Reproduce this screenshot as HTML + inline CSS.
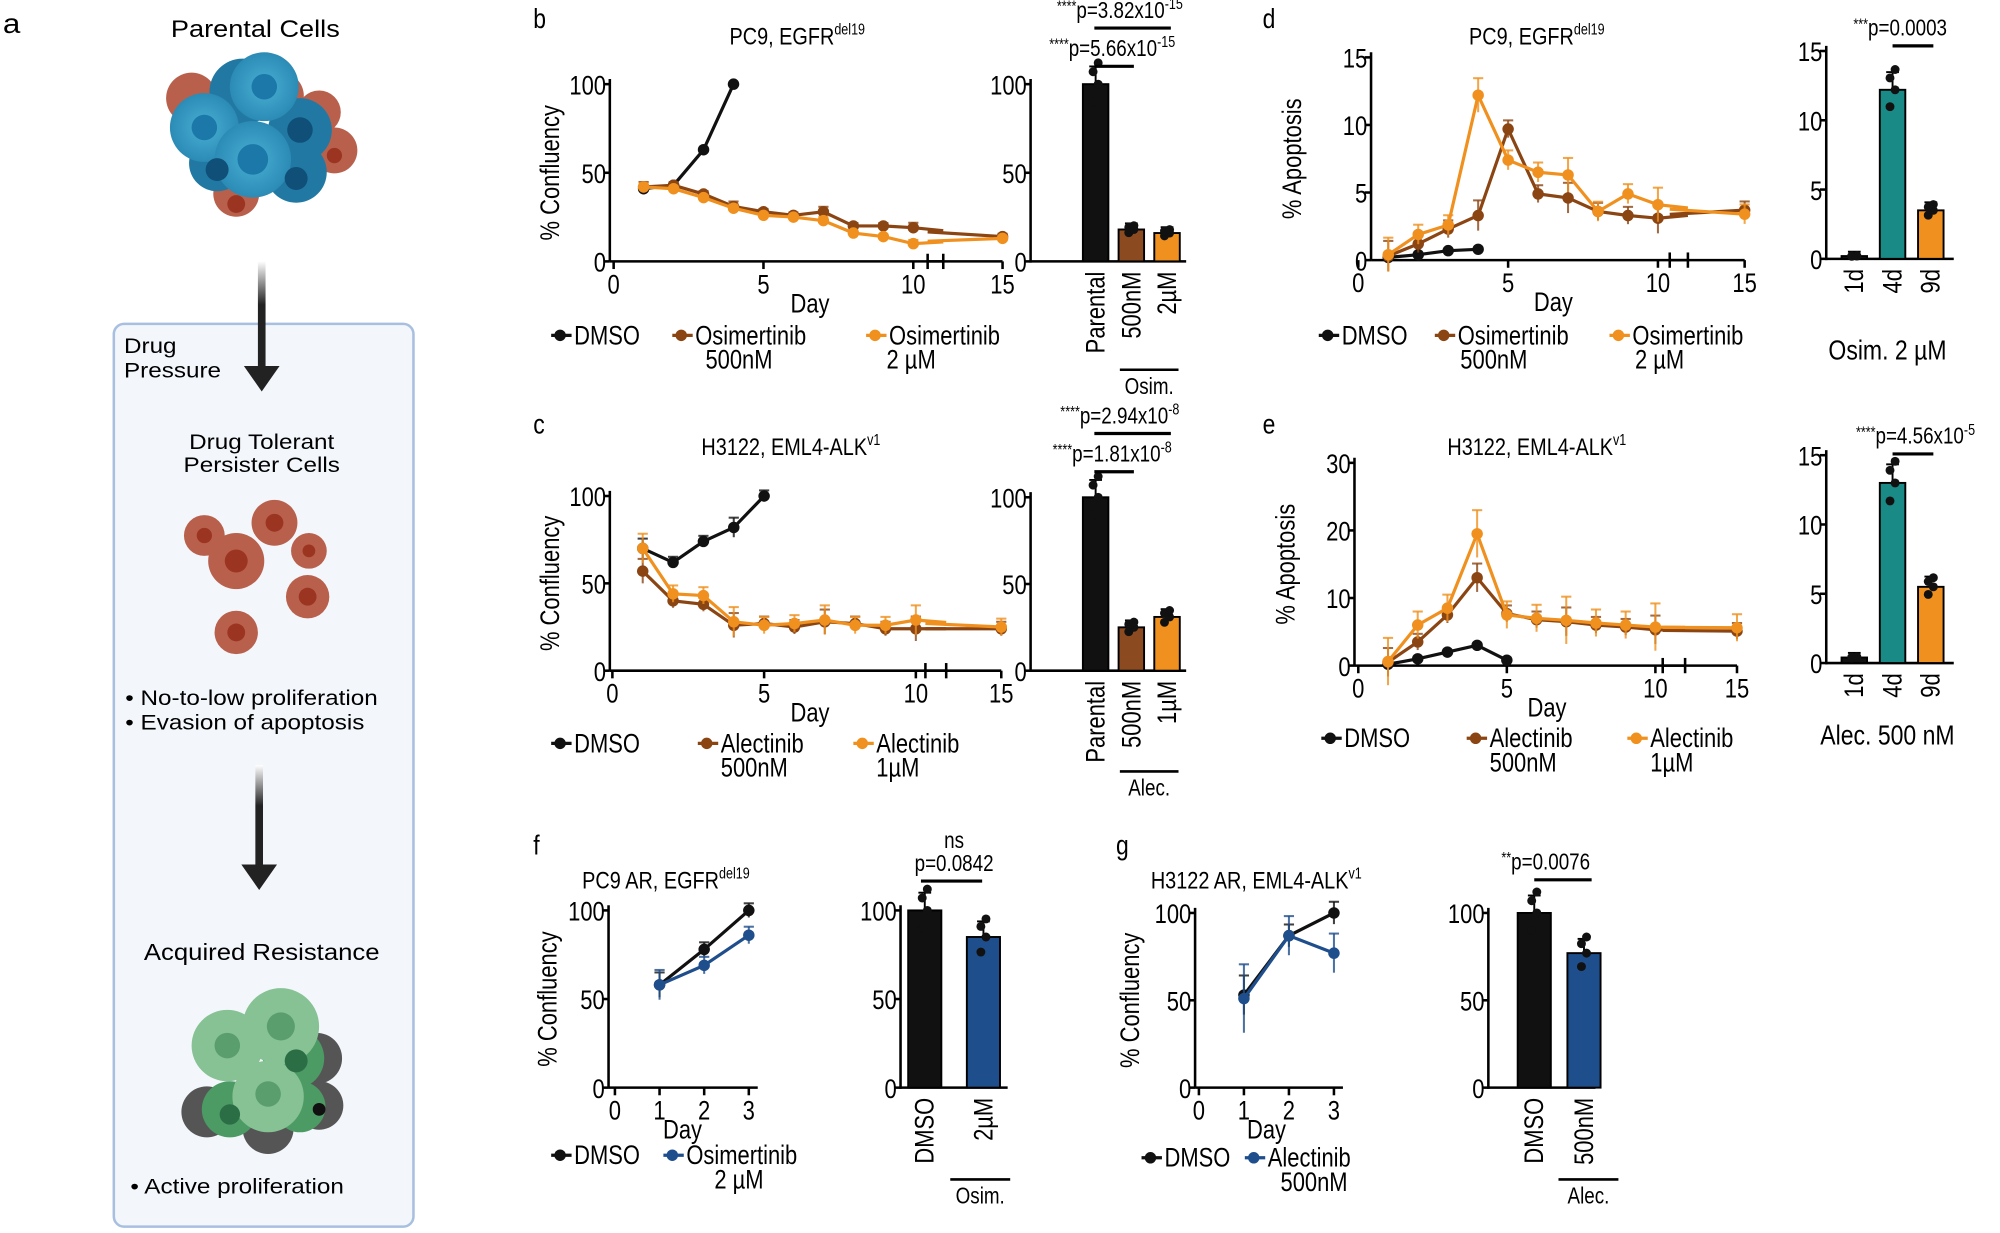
<!DOCTYPE html>
<html><head><meta charset="utf-8">
<style>
html,body{margin:0;padding:0;background:#fff;}
svg{display:block;font-family:"Liberation Sans Narrow","Liberation Sans",sans-serif;}
.t{font-family:"Liberation Sans",sans-serif;}
</style></head>
<body>
<svg id="fig" width="2000" height="1233" viewBox="0 0 1568 967" xmlns="http://www.w3.org/2000/svg">
<defs>
<radialGradient id="gb" cx="50%" cy="50%" r="50%"><stop offset="0" stop-color="#4ab0d4"/><stop offset="1" stop-color="#2b8bb5"/></radialGradient>
<linearGradient id="arr" x1="0" y1="0" x2="0" y2="1"><stop offset="0" stop-color="#fff"/><stop offset="0.4" stop-color="#222"/><stop offset="1" stop-color="#222"/></linearGradient>
</defs>
<g id="panelA" class="t">
<text x="2" y="26" font-size="22">a</text>
<text x="200" y="29" font-size="19" text-anchor="middle">Parental Cells</text>
<g>
<circle cx="150" cy="77" r="20" fill="#b8604c"/><circle cx="250" cy="88" r="17" fill="#b8604c"/><circle cx="262" cy="118" r="18" fill="#b8604c"/><circle cx="185" cy="152" r="18" fill="#b8604c"/><circle cx="220" cy="75" r="18" fill="#b8604c"/>
<circle cx="190" cy="72" r="26" fill="#2179a3"/><circle cx="235" cy="102" r="25" fill="#2179a3"/><circle cx="170" cy="128" r="22" fill="#2179a3"/><circle cx="232" cy="135" r="24" fill="#2179a3"/>
<circle cx="160" cy="100" r="27" fill="url(#gb)"/><circle cx="207" cy="68" r="27" fill="url(#gb)"/><circle cx="198" cy="125" r="30" fill="url(#gb)"/>
<circle cx="160" cy="100" r="10" fill="#1b78a8"/><circle cx="207" cy="68" r="10" fill="#1b78a8"/><circle cx="198" cy="125" r="12" fill="#1b78a8"/><circle cx="235" cy="102" r="10" fill="#0f4f78"/><circle cx="170" cy="133" r="9" fill="#0f4f78"/><circle cx="232" cy="140" r="9" fill="#0f4f78"/><circle cx="185" cy="160" r="7" fill="#9c3422"/><circle cx="262" cy="122" r="6" fill="#9c3422"/>
</g>
<rect x="89" y="254" width="235" height="708" rx="8" fill="#f3f7fc" stroke="#a9bfe0" stroke-width="2"/>
<rect x="202" y="205" width="6" height="85" fill="url(#arr)"/>
<polygon points="191,287 219,287 205,307" fill="#222"/>
<text x="97" y="277" font-size="17">Drug</text>
<text x="97" y="296" font-size="17">Pressure</text>
<text x="205" y="352" font-size="17" text-anchor="middle">Drug Tolerant</text>
<text x="205" y="370" font-size="17" text-anchor="middle">Persister Cells</text>
<g fill="#b8604c">
<circle cx="160" cy="420" r="16"/><circle cx="185" cy="440" r="22"/><circle cx="215" cy="410" r="18"/><circle cx="242" cy="432" r="14"/><circle cx="241" cy="468" r="17"/><circle cx="185" cy="496" r="17"/>
<g fill="#9c3422"><circle cx="160" cy="420" r="6"/><circle cx="185" cy="440" r="9"/><circle cx="215" cy="410" r="7"/><circle cx="242" cy="432" r="5"/><circle cx="241" cy="468" r="7"/><circle cx="185" cy="496" r="7"/></g>
</g>
<text x="98" y="553" font-size="17">• No-to-low proliferation</text>
<text x="98" y="572" font-size="17">• Evasion of apoptosis</text>
<rect x="200" y="600" width="6" height="80" fill="url(#arr)"/>
<polygon points="189,678 217,678 203,698" fill="#222"/>
<text x="205" y="753" font-size="18" text-anchor="middle">Acquired Resistance</text>
<g>
<circle cx="162" cy="872" r="20" fill="#555"/><circle cx="248" cy="830" r="20" fill="#555"/><circle cx="250" cy="867" r="19" fill="#555"/><circle cx="210" cy="885" r="20" fill="#555"/>
<circle cx="230" cy="830" r="24" fill="#4c9a64"/><circle cx="180" cy="870" r="22" fill="#4c9a64"/><circle cx="235" cy="868" r="20" fill="#4c9a64"/>
<circle cx="178" cy="820" r="28" fill="#86c293"/><circle cx="220" cy="805" r="30" fill="#86c293"/><circle cx="210" cy="860" r="28" fill="#86c293"/>
<circle cx="178" cy="820" r="10" fill="#5a9e6d"/><circle cx="220" cy="805" r="11" fill="#5a9e6d"/><circle cx="210" cy="858" r="10" fill="#5a9e6d"/><circle cx="232" cy="832" r="9" fill="#2b6e45"/><circle cx="180" cy="874" r="8" fill="#2b6e45"/><circle cx="250" cy="870" r="5" fill="#111"/>
</g>
<text x="102" y="936" font-size="17">• Active proliferation</text>
</g>
<g id="charts"></g>
</svg>
<script>
// ---- data ----
const bDays=[1,2,3,4], bDMSO=[41,43,63,100];
const bDaysL=[1,2,3,4,5,6,7,8,9,10,15];
const bOsim500=[42,43,38,31,28,26,28,20,20,19,14];
const bOsim2=[42,41,36,30,26,25,23,16,14,10,13];
const bBarCats=["Parental","500nM","2µM"], bBarVals=[100,18,16];
const dDMSO=[0.2,0.4,0.7,0.8];
const dOsim500=[0.3,1.2,2.3,3.3,9.7,4.9,4.6,3.6,3.3,3.1,3.7];
const dOsim2=[0.4,1.9,2.6,12.2,7.4,6.5,6.3,3.6,4.9,4.1,3.4];
const dBarCats=["1d","4d","9d"], dBarVals=[0.2,12.2,3.5];
const cDMSO=[70,62,74,82,100], cDays=[1,2,3,4,5];
const cAlec500=[57,40,38,26,27,25,28,27,24,24,24];
const cAlec1=[70,44,43,28,26,27,29,26,26,29,25];
const cBarCats=["Parental","500nM","1µM"], cBarVals=[100,25,31];
const eDMSO=[0.2,1,2,3,0.8];
const eAlec500=[0.5,3.5,7.5,13,7.7,6.8,6.5,6,5.7,5.3,5.1];
const eAlec1=[0.6,6,8.5,19.5,7.5,7,6.7,6.3,6,5.7,5.6];
const eBarCats=["1d","4d","9d"], eBarVals=[0.4,13,5.5];
const fDays=[1,2,3], fDMSO=[58,78,100], fOsim=[58,69,86];
const fBarCats=["DMSO","2µM"], fBarVals=[100,85];
const gDMSO=[53,87,100], gAlec=[51,87,77];
const gBarCats=["DMSO","500nM"], gBarVals=[100,77];

const NS="http://www.w3.org/2000/svg";
const root=document.getElementById('charts');
const FS=21;
function el(tag,attrs,parent,txt){const e=document.createElementNS(NS,tag);for(const k in attrs)e.setAttribute(k,attrs[k]);if(txt!==undefined)e.textContent=txt;(parent||root).appendChild(e);return e;}
const BLK="#111",BR="#8b4513",OR="#f0901e",TEAL="#1a8a87",BLUE="#1f4e8c";

function lineChart(o){
  const g=el('g',{},root);
  
  
  const ys=v=>o.y0-(v/o.ymax)*(o.y0-o.ytop);
  const xs=d=>o.brk&&d>11?o.x15-(15-d)*o.k:o.x0+d*o.k;
  const ya=el('line',{x1:o.ax,y1:o.y0,x2:o.ax,y2:o.ytop-4,stroke:'#000','stroke-width':2},g);
  
  o.yt.forEach(v=>{el('line',{x1:o.ax-5,x2:o.ax,y1:ys(v),y2:ys(v),stroke:'#000','stroke-width':2},g);
    const t=el('text',{x:o.ax-3,y:ys(v)+8,'font-size':FS,'text-anchor':'end'},g,v);});
  const xend=o.brk?o.x0+11*o.k:o.x0+o.xmax*o.k;
  const xa=el('line',{x1:o.ax,y1:o.y0,x2:xend,y2:o.y0,stroke:'#000','stroke-width':2},g);
  
  if(o.brk){el('line',{x1:xend,x2:xend,y1:o.y0-6,y2:o.y0+6,stroke:'#000','stroke-width':2},g);
    const b2=o.x15-2.5*o.k;el('line',{x1:b2,x2:o.x15,y1:o.y0,y2:o.y0,stroke:'#000','stroke-width':2},g);
    el('line',{x1:b2,x2:b2,y1:o.y0-6,y2:o.y0+6,stroke:'#000','stroke-width':2},g);}
  o.xt.forEach(d=>{el('line',{x1:xs(d),x2:xs(d),y1:o.y0,y2:o.y0+6,stroke:'#000','stroke-width':2},g);
    const t=el('text',{x:xs(d),y:o.y0+25,'font-size':FS,'text-anchor':'middle'},g,d);});
  const xl=el('text',{x:o.xlx,y:o.y0+40,'font-size':FS,'text-anchor':'middle'},g,'Day');
  const yl=el('text',{x:0,y:0,'font-size':FS,'text-anchor':'middle',transform:`translate(${o.ylx},${(o.y0+o.ytop)/2}) rotate(-90)`},g,o.ylabel);
  
  const tt=el('text',{x:o.tx,y:o.ty,'font-size':19,'text-anchor':'middle'},g,o.title);
  
  if(o.sup){el('tspan',{'font-size':12,dy:-8},tt,o.sup);}
  o.series.forEach(s=>{
    const sg=el('g',{},g);
    let pts=s.vals.map((v,i)=>[xs(s.days[i]),ys(v)]);
    let main=pts, tail=null;
    if(o.brk&&s.days[s.days.length-1]>11){main=pts.slice(0,-1);const lp=pts[pts.length-1];const pv=pts[pts.length-2];
      const xb=o.x0+11*o.k; const yb=pv[1]+(lp[1]-pv[1])*(xb-pv[0])/(lp[0]-pv[0]);
      main=main.concat([[xb,yb]]);tail=[[o.x15-2.5*o.k,yb+(lp[1]-yb)*0.2],lp];}
    const pl=el('polyline',{points:main.map(p=>p.join(',')).join(' '),fill:'none',stroke:s.c,'stroke-width':2.5},sg);
    
    if(tail)el('polyline',{points:tail.map(p=>p.join(',')).join(' '),fill:'none',stroke:s.c,'stroke-width':2.5},sg);
    pts.forEach((p,i)=>{if(s.err){const e=s.err*(o.y0-o.ytop)/o.ymax*(i%3===0?1.4:0.8);
        el('line',{x1:p[0],x2:p[0],y1:p[1]-e,y2:p[1]+e,stroke:s.c,'stroke-width':1.6,opacity:0.8},sg);
        el('line',{x1:p[0]-4,x2:p[0]+4,y1:p[1]-e,y2:p[1]-e,stroke:s.c,'stroke-width':1.6,opacity:0.8},sg);}
      const m=el('circle',{cx:p[0],cy:p[1],r:4.5,fill:s.c},sg);});
  });
  o.legend.forEach(L=>{const lg=el('g',{},g);
    el('line',{x1:L.x,x2:L.x+16,y1:L.y-7,y2:L.y-7,stroke:L.c,'stroke-width':2.5},lg);el('circle',{cx:L.x+7,cy:L.y-7,r:4.5,fill:L.c},lg);
    el('text',{x:L.x+18,y:L.y,'font-size':FS},lg,L.t1);if(L.t2)el('text',{x:L.x+(L.dx2||18),y:L.y+19,'font-size':FS},lg,L.t2);});
}

function barChart(o){
  const g=el('g',{},root);
  const ys=v=>o.y0-(v/o.ymax)*(o.y0-o.ytop);
  el('line',{x1:o.ax,y1:o.y0+1,x2:o.ax,y2:o.ytop-4,stroke:'#000','stroke-width':2},g);
  el('line',{x1:o.ax,y1:o.y0,x2:o.ax+o.w,y2:o.y0,stroke:'#000','stroke-width':2},g);
  o.yt.forEach(v=>{el('line',{x1:o.ax-5,x2:o.ax,y1:ys(v),y2:ys(v),stroke:'#000','stroke-width':2},g);
    const t=el('text',{x:o.ax-3,y:ys(v)+8,'font-size':FS,'text-anchor':'end'},g,v);});
  o.vals.forEach((v,i)=>{const cx=o.ax+o.first+i*o.step;
    const r=el('rect',{x:cx-o.bw/2,y:ys(v),width:o.bw,height:o.y0-ys(v),fill:o.cols[i],stroke:'#000','stroke-width':1.5},g);
    
    const e=v*0.08+0.02*o.ymax;
    el('line',{x1:cx,x2:cx,y1:ys(v),y2:ys(v)-e*(o.y0-o.ytop)/o.ymax,stroke:'#000','stroke-width':1.5},g);
    el('line',{x1:cx-5,x2:cx+5,y1:ys(v)-e*(o.y0-o.ytop)/o.ymax,y2:ys(v)-e*(o.y0-o.ytop)/o.ymax,stroke:'#000','stroke-width':1.5},g);
    [0.9,1.0,1.07,1.12].forEach((f,j)=>el('circle',{cx:cx+(j%2?2:-2),cy:ys(v*f),r:3.5,fill:'#111'},g));
    const t=el('text',{x:0,y:0,'font-size':FS,'text-anchor':'end',transform:`translate(${cx+7},${o.y0+8}) rotate(-90)`},g,o.cats[i]);
    });
  if(o.group){el('line',{x1:o.group.x1,x2:o.group.x2,y1:o.group.y,y2:o.group.y,stroke:'#000','stroke-width':2},g);
    const t=el('text',{x:(o.group.x1+o.group.x2)/2,y:o.group.y+19,'font-size':18,'text-anchor':'middle'},g,o.group.t);}
  if(o.caption){const t=el('text',{x:o.caption.x,y:o.caption.y,'font-size':22,'text-anchor':'middle'},g,o.caption.t);}
  (o.sig||[]).forEach(s=>{el('line',{x1:s.x1,x2:s.x2,y1:s.y,y2:s.y,stroke:'#000','stroke-width':2.5},g);
    const t=el('text',{x:s.tx,y:s.y-8,'font-size':18,'text-anchor':'middle'},g);
    if(s.stars)el('tspan',{'font-size':12,dy:-5},t,s.stars);el('tspan',{dy:s.stars?5:0},t,s.p);if(s.sup)el('tspan',{'font-size':12,dy:-7},t,s.sup);});
}
function label(t,x,y){const e=el('text',{x:x,y:y,'font-size':22,'font-family':'Liberation Sans,sans-serif'},root,t);}

label('b',418,22);label('c',418,340);label('d',990,22);label('e',990,340);label('f',418,670);label('g',875,670);

lineChart({name:'chart-b-confluency',ax:478,x0:481,k:23.5,brk:true,x15:786,y0:205,ytop:66,ymax:100,yt:[0,50,100],xt:[0,5,10,15],xlx:635,ylx:438,ylabel:'% Confluency',title:'PC9, EGFR',sup:'del19',tx:625,ty:35,
 series:[{name:'series-dmso',days:bDays,vals:bDMSO,c:BLK},{name:'series-osim-500nm',days:bDaysL,vals:bOsim500,c:BR,err:2},{name:'series-osim-2um',days:bDaysL,vals:bOsim2,c:OR,err:1.5}],
 legend:[{x:432,y:270,c:BLK,t1:'DMSO'},{x:527,y:270,c:BR,t1:'Osimertinib',t2:'500nM',dx2:26},{x:679,y:270,c:OR,t1:'Osimertinib',t2:'2 µM',dx2:16}]});
barChart({name:'chart-b-bars',ax:808,y0:205,ytop:66,ymax:100,yt:[0,50,100],w:122,first:51,step:28,bw:20,cats:bBarCats,vals:bBarVals,cols:[BLK,'#8b4a1f',OR],
 group:{x1:878,x2:924,y:290,t:'Osim.'},sig:[{x1:858,x2:918,y:22,tx:878,stars:'****',p:'p=3.82x10',sup:'-15'},{x1:858,x2:889,y:52,tx:872,stars:'****',p:'p=5.66x10',sup:'-15'}]});
lineChart({name:'chart-d-apoptosis',ax:1075,x0:1065,k:23.5,brk:true,x15:1368,y0:204,ytop:45,ymax:15,yt:[0,5,10,15],xt:[0,5,10,15],xlx:1218,ylx:1020,ylabel:'% Apoptosis',title:'PC9, EGFR',sup:'del19',tx:1205,ty:35,
 series:[{name:'series-dmso',days:bDays,vals:dDMSO,c:BLK},{name:'series-osim-500nm',days:bDaysL,vals:dOsim500,c:BR,err:0.8},{name:'series-osim-2um',days:bDaysL,vals:dOsim2,c:OR,err:0.9}],
 legend:[{x:1034,y:270,c:BLK,t1:'DMSO'},{x:1125,y:270,c:BR,t1:'Osimertinib',t2:'500nM',dx2:20},{x:1262,y:270,c:OR,t1:'Osimertinib',t2:'2 µM',dx2:20}]});
barChart({name:'chart-d-bars',ax:1432,y0:203,ytop:40,ymax:15,yt:[0,5,10,15],w:100,first:22,step:30,bw:20,cats:dBarCats,vals:dBarVals,cols:[BLK,TEAL,OR],
 caption:{x:1480,y:282,t:'Osim. 2 µM'},sig:[{x1:1484,x2:1516,y:36,tx:1490,stars:'***',p:'p=0.0003'}]});
lineChart({name:'chart-c-confluency',ax:478,x0:480,k:23.8,brk:true,x15:785,y0:526,ytop:389,ymax:100,yt:[0,50,100],xt:[0,5,10,15],xlx:635,ylx:438,ylabel:'% Confluency',title:'H3122, EML4-ALK',sup:'v1',tx:620,ty:357,
 series:[{name:'series-dmso',days:cDays,vals:cDMSO,c:BLK,err:4},{name:'series-alec-500nm',days:bDaysL,vals:cAlec500,c:BR,err:5},{name:'series-alec-1um',days:bDaysL,vals:cAlec1,c:OR,err:6}],
 legend:[{x:432,y:590,c:BLK,t1:'DMSO'},{x:547,y:590,c:BR,t1:'Alectinib',t2:'500nM'},{x:669,y:590,c:OR,t1:'Alectinib',t2:'1µM'}]});
barChart({name:'chart-c-bars',ax:808,y0:526,ytop:390,ymax:100,yt:[0,50,100],w:122,first:51,step:28,bw:20,cats:cBarCats,vals:cBarVals,cols:[BLK,'#8b4a1f',OR],
 group:{x1:878,x2:924,y:605,t:'Alec.'},sig:[{x1:858,x2:918,y:340,tx:878,stars:'****',p:'p=2.94x10',sup:'-8'},{x1:858,x2:889,y:370,tx:872,stars:'****',p:'p=1.81x10',sup:'-8'}]});
lineChart({name:'chart-e-apoptosis',ax:1062,x0:1065,k:23.3,brk:true,x15:1362,y0:522,ytop:363,ymax:30,yt:[0,10,20,30],xt:[0,5,10,15],xlx:1213,ylx:1015,ylabel:'% Apoptosis',title:'H3122, EML4-ALK',sup:'v1',tx:1205,ty:357,
 series:[{name:'series-dmso',days:cDays,vals:eDMSO,c:BLK},{name:'series-alec-500nm',days:bDaysL,vals:eAlec500,c:BR,err:1.5},{name:'series-alec-1um',days:bDaysL,vals:eAlec1,c:OR,err:2.5}],
 legend:[{x:1036,y:586,c:BLK,t1:'DMSO'},{x:1150,y:586,c:BR,t1:'Alectinib',t2:'500nM'},{x:1276,y:586,c:OR,t1:'Alectinib',t2:'1µM'}]});
barChart({name:'chart-e-bars',ax:1432,y0:520,ytop:357,ymax:15,yt:[0,5,10,15],w:100,first:22,step:30,bw:20,cats:eBarCats,vals:eBarVals,cols:[BLK,TEAL,OR],
 caption:{x:1480,y:584,t:'Alec. 500 nM'},sig:[{x1:1484,x2:1516,y:356,tx:1502,stars:'****',p:'p=4.56x10',sup:'-5'}]});
lineChart({name:'chart-f-confluency',ax:477,x0:482,k:35,brk:false,xmax:3.2,y0:853,ytop:714,ymax:100,yt:[0,50,100],xt:[0,1,2,3],xlx:535,ylx:436,ylabel:'% Confluency',title:'PC9 AR, EGFR',sup:'del19',tx:522,ty:697,
 series:[{name:'series-dmso',days:fDays,vals:fDMSO,c:BLK,err:5},{name:'series-osim-2um',days:fDays,vals:fOsim,c:BLUE,err:6}],
 legend:[{x:432,y:913,c:BLK,t1:'DMSO'},{x:520,y:913,c:BLUE,t1:'Osimertinib',t2:'2 µM',dx2:40}]});
barChart({name:'chart-f-bars',ax:706,y0:853,ytop:714,ymax:100,yt:[0,50,100],w:84,first:19,step:46,bw:26,cats:fBarCats,vals:fBarVals,cols:[BLK,BLUE],
 group:{x1:745,x2:792,y:925,t:'Osim.'},sig:[{x1:722,x2:770,y:691,tx:748,stars:'',p:'p=0.0842'}]});
{const t=el('text',{x:748,y:665,'font-size':18,'text-anchor':'middle'},root,'ns');}
lineChart({name:'chart-g-confluency',ax:937,x0:940,k:35.3,brk:false,xmax:3.2,y0:853,ytop:716,ymax:100,yt:[0,50,100],xt:[0,1,2,3],xlx:993,ylx:893,ylabel:'% Confluency',title:'H3122 AR, EML4-ALK',sup:'v1',tx:985,ty:697,
 series:[{name:'series-dmso',days:fDays,vals:gDMSO,c:BLK,err:8},{name:'series-alec-500nm',days:fDays,vals:gAlec,c:BLUE,err:14}],
 legend:[{x:895,y:915,c:BLK,t1:'DMSO'},{x:976,y:915,c:BLUE,t1:'Alectinib',t2:'500nM',dx2:28}]});
barChart({name:'chart-g-bars',ax:1167,y0:853,ytop:716,ymax:100,yt:[0,50,100],w:84,first:36,step:39,bw:26,cats:gBarCats,vals:gBarVals,cols:[BLK,BLUE],
 group:{x1:1222,x2:1269,y:925,t:'Alec.'},sig:[{x1:1203,x2:1248,y:690,tx:1212,stars:'**',p:'p=0.0076'}]});

function squeeze(sel,f){document.querySelectorAll(sel).forEach(t=>{if(t.tagName!=='text')return;const L=t.getComputedTextLength();if(L>0){t.setAttribute('textLength',(L*f).toFixed(1));t.setAttribute('lengthAdjust','spacingAndGlyphs');}});}
squeeze('#charts text',0.82);
squeeze('#panelA text',1.12);
</script>
</body></html>
